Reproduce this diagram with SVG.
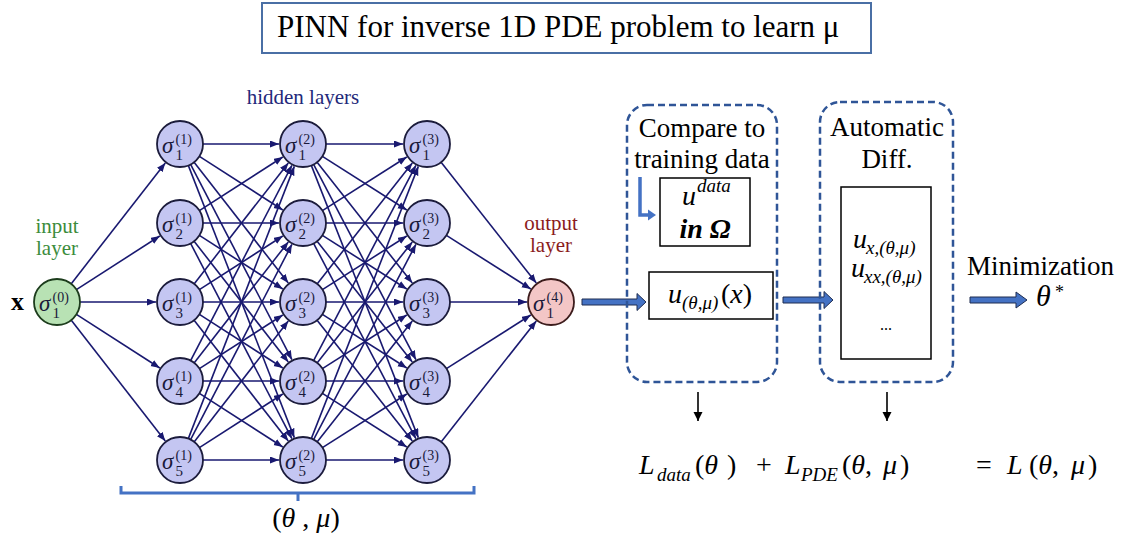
<svg xmlns="http://www.w3.org/2000/svg" width="1122" height="538" viewBox="0 0 1122 538" font-family="'Liberation Serif', 'DejaVu Serif', serif">
<style>
text{font-family:'Liberation Serif','DejaVu Serif',serif;fill:#000}
.e{stroke:#191970;stroke-width:1.6;fill:none;marker-end:url(#ah)}
.hid{fill:#c4c6f2;stroke:#1c1c3c;stroke-width:1.8}
.inp{fill:#b8e2b4;stroke:#1c3c1c;stroke-width:1.8}
.out{fill:#f3c6c6;stroke:#3c1c1c;stroke-width:1.8}
.sg{font-size:23px;font-style:italic;fill:#1a1a3a}
.sb{font-size:15px;fill:#1a1a3a}
.sp{font-size:14px;fill:#1a1a3a}
.lbl{font-size:21px}
.dash{fill:none;stroke:#2f5597;stroke-width:2.5;stroke-dasharray:7 4}
.box{fill:#fff;stroke:#000;stroke-width:1.5}
.blk{fill:#4472c4;stroke:#1f2d50;stroke-width:1}
.m{font-size:28px;font-style:italic}
.ms{font-size:19px;font-style:italic}
.up{font-size:28px}
.big{font-size:27px}
</style>
<defs>
<marker id="ah" markerUnits="userSpaceOnUse" markerWidth="10" markerHeight="8" refX="9" refY="3.5" orient="auto"><path d="M0,0 L9,3.5 L0,7 z" fill="#191970"/></marker>
<marker id="bk" markerUnits="userSpaceOnUse" markerWidth="10" markerHeight="10" refX="9" refY="4.5" orient="auto"><path d="M0,0 L9,4.5 L0,9 z" fill="#000"/></marker>
</defs>
<rect width="1122" height="538" fill="#fff"/>

<g id="title">
<rect x="262" y="3" width="609" height="50" fill="#fff" stroke="#4a6fa5" stroke-width="2"/>
<text x="277" y="37" font-size="31">PINN for inverse 1D PDE problem to learn μ</text>
</g>

<g id="connectors">
<line class="e" x1="71.1" y1="283.9" x2="165.3" y2="162.9"/>
<line class="e" x1="76.4" y1="289.6" x2="159.8" y2="236"/>
<line class="e" x1="80" y1="302" x2="156" y2="302"/>
<line class="e" x1="76.4" y1="314.4" x2="159.8" y2="368"/>
<line class="e" x1="71.1" y1="320.1" x2="165.3" y2="441.1"/>

<line class="e" x1="203" y1="144" x2="279" y2="144"/>
<line class="e" x1="199.4" y1="156.4" x2="282.8" y2="210"/>
<line class="e" x1="194.1" y1="162.2" x2="288.3" y2="283.1"/>
<line class="e" x1="190.6" y1="164.4" x2="291.9" y2="359.7"/>
<line class="e" x1="188.3" y1="165.4" x2="294.3" y2="437.6"/>
<line class="e" x1="199.4" y1="210.6" x2="282.8" y2="157"/>
<line class="e" x1="203" y1="223" x2="279" y2="223"/>
<line class="e" x1="199.4" y1="235.4" x2="282.8" y2="289"/>
<line class="e" x1="194.1" y1="241.2" x2="288.3" y2="362.1"/>
<line class="e" x1="190.6" y1="243.4" x2="291.9" y2="438.7"/>
<line class="e" x1="194.1" y1="283.9" x2="288.3" y2="162.9"/>
<line class="e" x1="199.4" y1="289.6" x2="282.8" y2="236"/>
<line class="e" x1="203" y1="302" x2="279" y2="302"/>
<line class="e" x1="199.4" y1="314.4" x2="282.8" y2="368"/>
<line class="e" x1="194.1" y1="320.2" x2="288.3" y2="441.1"/>
<line class="e" x1="190.6" y1="360.6" x2="291.9" y2="165.3"/>
<line class="e" x1="194.1" y1="362.9" x2="288.3" y2="241.9"/>
<line class="e" x1="199.4" y1="368.6" x2="282.8" y2="315"/>
<line class="e" x1="203" y1="381" x2="279" y2="381"/>
<line class="e" x1="199.4" y1="393.4" x2="282.8" y2="447"/>
<line class="e" x1="188.3" y1="438.6" x2="294.3" y2="166.4"/>
<line class="e" x1="190.6" y1="439.6" x2="291.9" y2="244.3"/>
<line class="e" x1="194.1" y1="441.9" x2="288.3" y2="320.9"/>
<line class="e" x1="199.4" y1="447.6" x2="282.8" y2="394"/>
<line class="e" x1="203" y1="460" x2="279" y2="460"/>

<line class="e" x1="326" y1="144" x2="403" y2="144"/>
<line class="e" x1="322.4" y1="156.4" x2="406.8" y2="210"/>
<line class="e" x1="317.1" y1="162.2" x2="412.3" y2="283.1"/>
<line class="e" x1="313.6" y1="164.4" x2="415.9" y2="359.7"/>
<line class="e" x1="311.3" y1="165.4" x2="418.3" y2="437.6"/>
<line class="e" x1="322.4" y1="210.6" x2="406.8" y2="157"/>
<line class="e" x1="326" y1="223" x2="403" y2="223"/>
<line class="e" x1="322.4" y1="235.4" x2="406.8" y2="289"/>
<line class="e" x1="317.1" y1="241.2" x2="412.3" y2="362.1"/>
<line class="e" x1="313.6" y1="243.4" x2="415.9" y2="438.7"/>
<line class="e" x1="317.1" y1="283.9" x2="412.3" y2="162.9"/>
<line class="e" x1="322.4" y1="289.6" x2="406.8" y2="236"/>
<line class="e" x1="326" y1="302" x2="403" y2="302"/>
<line class="e" x1="322.4" y1="314.4" x2="406.8" y2="368"/>
<line class="e" x1="317.1" y1="320.2" x2="412.3" y2="441.1"/>
<line class="e" x1="313.6" y1="360.6" x2="415.9" y2="165.3"/>
<line class="e" x1="317.1" y1="362.9" x2="412.3" y2="241.9"/>
<line class="e" x1="322.4" y1="368.6" x2="406.8" y2="315"/>
<line class="e" x1="326" y1="381" x2="403" y2="381"/>
<line class="e" x1="322.4" y1="393.4" x2="406.8" y2="447"/>
<line class="e" x1="311.3" y1="438.6" x2="418.3" y2="166.4"/>
<line class="e" x1="313.6" y1="439.6" x2="415.9" y2="244.3"/>
<line class="e" x1="317.1" y1="441.9" x2="412.3" y2="320.9"/>
<line class="e" x1="322.4" y1="447.6" x2="406.8" y2="394"/>
<line class="e" x1="326" y1="460" x2="403" y2="460"/>

<line class="e" x1="441.1" y1="162.2" x2="536.3" y2="283.1"/>
<line class="e" x1="446.4" y1="235.4" x2="530.8" y2="289"/>
<line class="e" x1="450" y1="302" x2="527" y2="302"/>
<line class="e" x1="446.4" y1="368.6" x2="530.8" y2="315"/>
<line class="e" x1="441.1" y1="441.9" x2="536.3" y2="320.9"/>

<path class="blk" d="M582,299 H637 V293.5 L646,302 L637,310.5 V305 H582 Z"/>
<path class="blk" d="M783,297 H824 V291.5 L833,300 L824,308.5 V303 H783 Z"/>
<path class="blk" d="M970,297 H1016 V292 L1027,300 L1016,308 V303 H970 Z"/>
<path d="M640,177 V215 H649" fill="none" stroke="#4472c4" stroke-width="3.5"/>
<path d="M648,209.5 L656,215 L648,220.5 Z" fill="#4472c4"/>
<line x1="698" y1="392" x2="698" y2="421" stroke="#000" stroke-width="1.6" marker-end="url(#bk)"/>
<line x1="887" y1="392" x2="887" y2="421" stroke="#000" stroke-width="1.6" marker-end="url(#bk)"/>
</g>

<g id="labels">
<text x="11" y="310" font-size="26" font-weight="bold">x</text>
<text x="57" y="233" class="lbl" text-anchor="middle" style="fill:#3c8c3c">input</text>
<text x="57" y="255" class="lbl" text-anchor="middle" style="fill:#3c8c3c">layer</text>
<text x="303" y="104" class="lbl" text-anchor="middle" style="fill:#23287a">hidden layers</text>
<text x="551" y="230" class="lbl" text-anchor="middle" style="fill:#8b1c1c">output</text>
<text x="551" y="252" class="lbl" text-anchor="middle" style="fill:#8b1c1c">layer</text>
</g>

<g id="n0"><circle class="inp" cx="57" cy="302" r="23"/><text class="sg" x="39" y="311">σ</text><text class="sb" x="52.5" y="318">1</text><text class="sp" x="52.5" y="301.5">(0)</text></g>

<g id="n1_1"><circle class="hid" cx="180" cy="144" r="23"/><text class="sg" x="162" y="153">σ</text><text class="sb" x="175.5" y="160">1</text><text class="sp" x="175.5" y="143.5">(1)</text></g>
<g id="n1_2"><circle class="hid" cx="180" cy="223" r="23"/><text class="sg" x="162" y="232">σ</text><text class="sb" x="175.5" y="239">2</text><text class="sp" x="175.5" y="222.5">(1)</text></g>
<g id="n1_3"><circle class="hid" cx="180" cy="302" r="23"/><text class="sg" x="162" y="311">σ</text><text class="sb" x="175.5" y="318">3</text><text class="sp" x="175.5" y="301.5">(1)</text></g>
<g id="n1_4"><circle class="hid" cx="180" cy="381" r="23"/><text class="sg" x="162" y="390">σ</text><text class="sb" x="175.5" y="397">4</text><text class="sp" x="175.5" y="380.5">(1)</text></g>
<g id="n1_5"><circle class="hid" cx="180" cy="460" r="23"/><text class="sg" x="162" y="469">σ</text><text class="sb" x="175.5" y="476">5</text><text class="sp" x="175.5" y="459.5">(1)</text></g>

<g id="n2_1"><circle class="hid" cx="303" cy="144" r="23"/><text class="sg" x="285" y="153">σ</text><text class="sb" x="298.5" y="160">1</text><text class="sp" x="298.5" y="143.5">(2)</text></g>
<g id="n2_2"><circle class="hid" cx="303" cy="223" r="23"/><text class="sg" x="285" y="232">σ</text><text class="sb" x="298.5" y="239">2</text><text class="sp" x="298.5" y="222.5">(2)</text></g>
<g id="n2_3"><circle class="hid" cx="303" cy="302" r="23"/><text class="sg" x="285" y="311">σ</text><text class="sb" x="298.5" y="318">3</text><text class="sp" x="298.5" y="301.5">(2)</text></g>
<g id="n2_4"><circle class="hid" cx="303" cy="381" r="23"/><text class="sg" x="285" y="390">σ</text><text class="sb" x="298.5" y="397">4</text><text class="sp" x="298.5" y="380.5">(2)</text></g>
<g id="n2_5"><circle class="hid" cx="303" cy="460" r="23"/><text class="sg" x="285" y="469">σ</text><text class="sb" x="298.5" y="476">5</text><text class="sp" x="298.5" y="459.5">(2)</text></g>

<g id="n3_1"><circle class="hid" cx="427" cy="144" r="23"/><text class="sg" x="409" y="153">σ</text><text class="sb" x="422.5" y="160">1</text><text class="sp" x="422.5" y="143.5">(3)</text></g>
<g id="n3_2"><circle class="hid" cx="427" cy="223" r="23"/><text class="sg" x="409" y="232">σ</text><text class="sb" x="422.5" y="239">2</text><text class="sp" x="422.5" y="222.5">(3)</text></g>
<g id="n3_3"><circle class="hid" cx="427" cy="302" r="23"/><text class="sg" x="409" y="311">σ</text><text class="sb" x="422.5" y="318">3</text><text class="sp" x="422.5" y="301.5">(3)</text></g>
<g id="n3_4"><circle class="hid" cx="427" cy="381" r="23"/><text class="sg" x="409" y="390">σ</text><text class="sb" x="422.5" y="397">4</text><text class="sp" x="422.5" y="380.5">(3)</text></g>
<g id="n3_5"><circle class="hid" cx="427" cy="460" r="23"/><text class="sg" x="409" y="469">σ</text><text class="sb" x="422.5" y="476">5</text><text class="sp" x="422.5" y="459.5">(3)</text></g>

<g id="n4"><circle class="out" cx="551" cy="302" r="23"/><text class="sg" x="533" y="311">σ</text><text class="sb" x="546.5" y="318">1</text><text class="sp" x="546.5" y="301.5">(4)</text></g>

<g id="bracket">
<path d="M121,486 V493 H474 V486 M298,493 V501" fill="none" stroke="#4472c4" stroke-width="3"/>
<text x="306" y="527" font-size="28" text-anchor="middle">(<tspan font-style="italic">θ</tspan> , <tspan font-style="italic">μ</tspan>)</text>
</g>

<g id="compare">
<rect class="dash" x="627" y="105" width="150" height="277" rx="20"/>
<text x="702" y="137" class="big" text-anchor="middle">Compare to</text>
<text x="702" y="168" class="big" text-anchor="middle">training data</text>
</g>
<g id="udata">
<rect class="box" x="660" y="178" width="90" height="68"/>
<text x="682" y="205" class="m">u</text>
<text x="697" y="192" class="ms">data</text>
<text x="705" y="238" class="m" font-weight="bold" text-anchor="middle">in Ω</text>
</g>
<g id="uout">
<rect class="box" x="649" y="272" width="124" height="47"/>
<text x="668" y="303" class="m">u</text>
<text x="682" y="309" class="ms">(θ,μ)</text>
<text x="721" y="303" class="up">(<tspan font-style="italic">x</tspan>)</text>
</g>

<g id="autodiff">
<rect class="dash" x="820" y="102" width="133" height="280" rx="20"/>
<text x="887" y="136" class="big" text-anchor="middle">Automatic</text>
<text x="887" y="168" class="big" text-anchor="middle">Diff.</text>
</g>
<g id="derivs">
<rect class="box" x="841" y="187" width="90" height="172"/>
<text x="853" y="248" class="m">u</text>
<text x="866" y="254" class="ms">x,(θ,μ)</text>
<text x="851" y="277" class="m">u</text>
<text x="864" y="283" class="ms">xx,(θ,μ)</text>
<text x="886" y="330" font-size="16" text-anchor="middle">...</text>
</g>

<g id="minim">
<text x="967" y="275" class="big">Minimization</text>
<text x="1036" y="306" font-size="30" font-style="italic">θ</text>
<text x="1055" y="298" font-size="18">*</text>
</g>

<g id="loss">
<text x="639" y="474" class="m">L</text>
<text x="657" y="481" class="ms">data</text>
<text x="695" y="474" class="up">(<tspan font-style="italic">θ</tspan></text>
<text x="727" y="474" class="up">)</text>
<text x="764" y="474" class="up" text-anchor="middle">+</text>
<text x="785" y="474" class="m">L</text>
<text x="801" y="481" class="ms" font-size="18">PDE</text>
<text x="842" y="474" class="up">(<tspan font-style="italic">θ</tspan>,</text>
<text x="883" y="474" class="m">μ</text>
<text x="900" y="474" class="up">)</text>
<text x="984" y="474" class="up" text-anchor="middle">=</text>
<text x="1007" y="474" class="m">L</text>
<text x="1029" y="474" class="up">(<tspan font-style="italic">θ</tspan>,</text>
<text x="1071" y="474" class="m">μ</text>
<text x="1088" y="474" class="up">)</text>
</g>
</svg>
